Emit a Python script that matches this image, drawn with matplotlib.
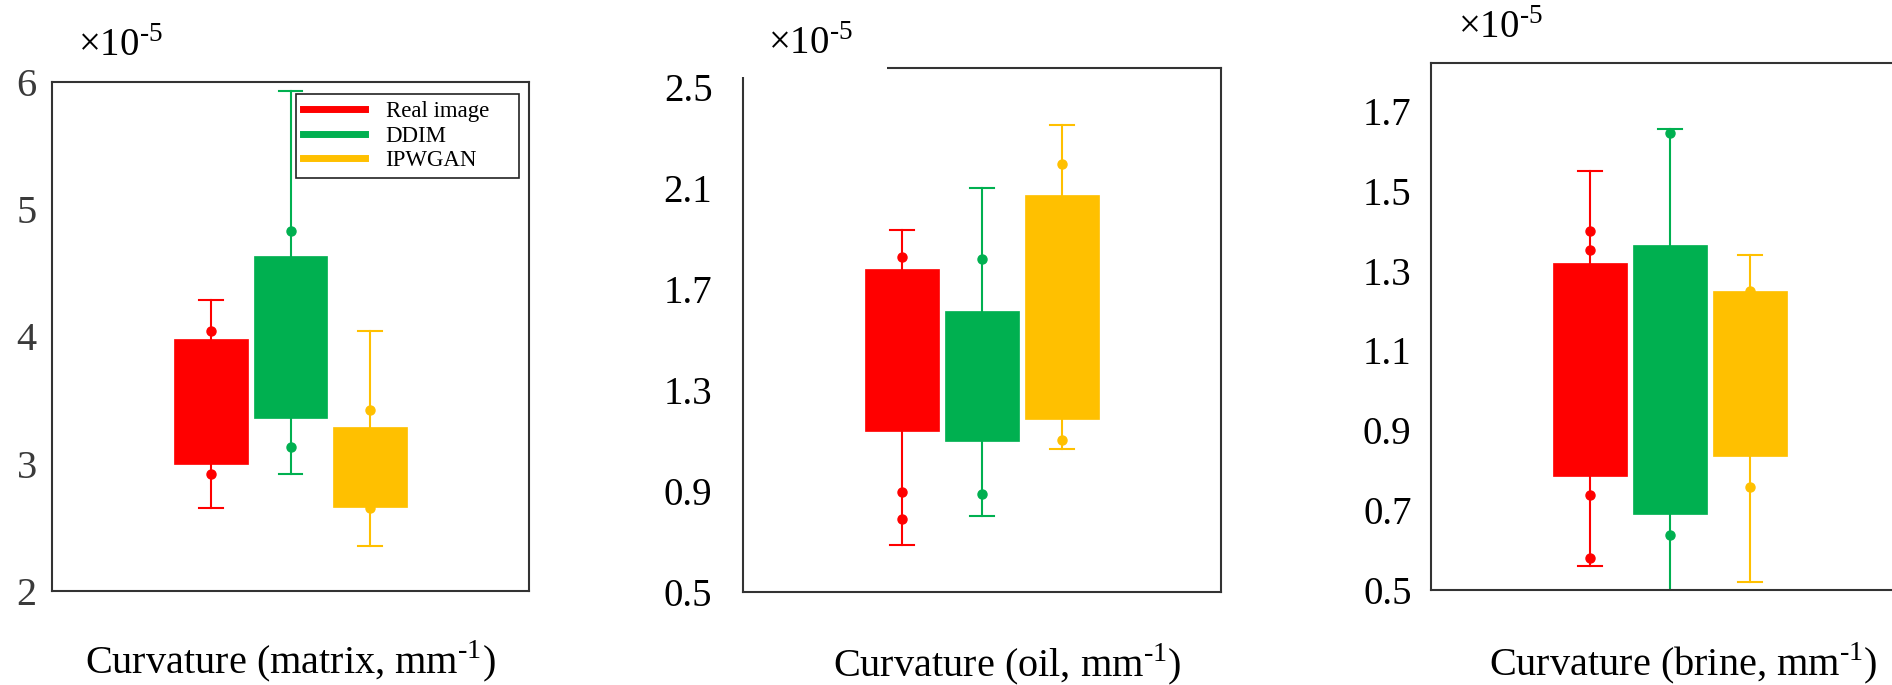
import matplotlib.pyplot as plt
from matplotlib.lines import Line2D
from matplotlib.patches import Rectangle

plt.rcParams['font.family'] = ['Liberation Serif', 'DejaVu Serif']
plt.rcParams['mathtext.fontset'] = 'custom'
plt.rcParams['mathtext.rm'] = 'Liberation Serif'

# values in units of 1e-5 mm^-1
methods = ["Real image", "DDIM", "IPWGAN"]
colors = ["#FF0000", "#00B050", "#FFC000"]
positions = [2, 3, 4]

matrix_q1 = [3.00, 3.36, 2.66]
matrix_q3 = [3.98, 4.63, 3.29]
matrix_lo = [2.65, 2.92, 2.35]
matrix_hi = [4.29, 5.93, 4.04]
matrix_pts = [[4.04, 2.92], [4.83, 3.13], [3.42, 2.65]]

oil_q1 = [1.136, 1.096, 1.186]
oil_q3 = [1.780, 1.612, 2.071]
oil_lo = [0.687, 0.800, 1.068]
oil_hi = [1.932, 2.100, 2.350]
oil_pts = [[1.827, 0.897, 0.791], [1.818, 0.890], [2.196, 1.101]]

brine_q1 = [0.786, 0.691, 0.836]
brine_q3 = [1.319, 1.363, 1.248]
brine_lo = [0.561, 0.49, 0.521]
brine_hi = [1.549, 1.654, 1.338]
brine_pts = [[1.398, 1.352, 0.738, 0.580], [1.644, 0.637], [1.25, 0.758]]

W, H = 1892, 685
SUP = "$^{\\text{-}5}$"
MM = "mm$^{\\text{-}1}$"


def px_rect(left, top, right, bottom):
    # pixel box -> figure fraction [l, b, w, h]
    return [left / W, 1 - bottom / H, (right - left) / W, (bottom - top) / H]


def draw_panel(ax, q1, q3, lo, hi, pts):
    for i in range(3):
        c = colors[i]
        stats = [dict(q1=q1[i], q3=q3[i], med=q1[i], whislo=lo[i], whishi=hi[i], fliers=pts[i])]
        ax.bxp(stats, positions=[positions[i]], widths=0.93, capwidths=0.3,
               patch_artist=True, manage_ticks=False,
               boxprops=dict(facecolor=c, edgecolor=c, linewidth=0.5),
               whiskerprops=dict(color=c, linewidth=1.5),
               capprops=dict(color=c, linewidth=1.5),
               medianprops=dict(linewidth=0),
               flierprops=dict(marker='o', markerfacecolor=c, markeredgecolor=c, markersize=6.5))
    ax.set_xlim(0, 6)
    ax.set_xticks([])
    for s in ax.spines.values():
        s.set_color('#333333')
        s.set_linewidth(1.5)


fig = plt.figure(figsize=(W / 100, H / 100), dpi=100)

# ---- matrix ----
ax1 = fig.add_axes(px_rect(52, 82, 529, 591))
draw_panel(ax1, matrix_q1, matrix_q3, matrix_lo, matrix_hi, matrix_pts)
ax1.set_ylim(2, 6)
ax1.set_yticks([2, 3, 4, 5, 6])
ax1.tick_params(axis='y', length=0, pad=11, labelsize=29, labelcolor='#3a3a3a')
handles = [Line2D([], [], color=c, lw=5) for c in colors]
leg = ax1.legend(handles, methods, loc='upper left', bbox_to_anchor=(0.512, 0.813, 0.467, 0.163),
                 mode='expand', borderaxespad=0, fontsize=16.5, fancybox=False,
                 edgecolor='#222222', framealpha=1, handlelength=2.7, handletextpad=0.9,
                 labelspacing=0.15, borderpad=0.3)
leg.get_frame().set_linewidth(1.2)
fig.text(290 / W, 1 - 673 / H, "Curvature (matrix, " + MM + ")", ha='center', va='baseline', fontsize=29)
fig.text(78 / W, 1 - 47 / H, "×10" + SUP, ha='left', va='center', fontsize=28)

# ---- oil ----
ax2 = fig.add_axes(px_rect(743, 68, 1221, 592))
draw_panel(ax2, oil_q1, oil_q3, oil_lo, oil_hi, oil_pts)
ax2.set_ylim(0.5, 2.575)
ax2.set_yticks([0.5, 0.9, 1.3, 1.7, 2.1, 2.5])
ax2.set_yticklabels(["0.5", "0.9", "1.3", "1.7", "2.1", "2.5"])
ax2.tick_params(axis='y', length=0, pad=22, labelsize=28)
# gap in the frame behind the multiplier label
fig.add_artist(Rectangle((737 / W, 1 - 76.5 / H), (887 - 737) / W, 20 / H,
                         transform=fig.transFigure, facecolor='white', edgecolor='none', zorder=5))
fig.text(1007 / W, 1 - 676 / H, "Curvature (oil, " + MM + ")", ha='center', va='baseline', fontsize=29)
fig.text(768 / W, 1 - 44 / H, "×10" + SUP, ha='left', va='center', fontsize=28, zorder=6)

# ---- brine ----
ax3 = fig.add_axes(px_rect(1431, 63, 1909, 590))
draw_panel(ax3, brine_q1, brine_q3, brine_lo, brine_hi, brine_pts)
ax3.set_ylim(0.5, 1.82)
ax3.set_yticks([0.5, 0.7, 0.9, 1.1, 1.3, 1.5, 1.7])
ax3.set_yticklabels(["0.5", "0.7", "0.9", "1.1", "1.3", "1.5", "1.7"])
ax3.tick_params(axis='y', length=0, pad=14, labelsize=28)
fig.text(1683 / W, 1 - 675 / H, "Curvature (brine, " + MM + ")", ha='center', va='baseline', fontsize=29)
fig.text(1458 / W, 1 - 29 / H, "×10" + SUP, ha='left', va='center', fontsize=28)

fig.savefig("out.png", dpi=100)
